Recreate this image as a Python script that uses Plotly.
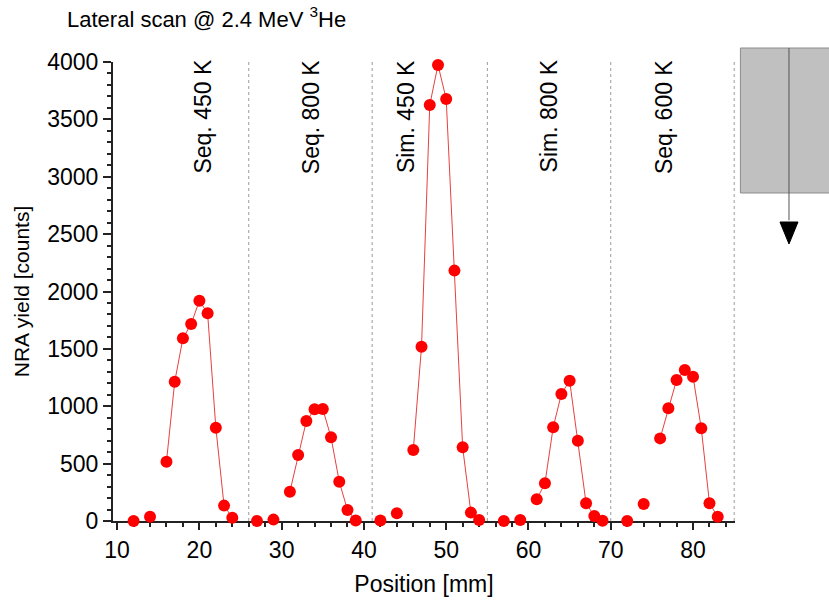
import plotly.graph_objects as go

# ---- data ----
segment_names = ["Seq. 450 K", "Seq. 800 K", "Sim. 450 K", "Sim. 800 K", "Seq. 600 K"]
segment_edges = [26, 41, 55, 70, 85]
label_pos = [20.4, 33.6, 45.2, 62.5, 76.5]

pos_seq450 = [12, 14, 16, 17, 18, 19, 20, 21, 22, 23, 24]
cnt_seq450 = [0, 37, 517, 1214, 1592, 1717, 1920, 1810, 813, 134, 29]

pos_seq800 = [27, 29, 31, 32, 33, 34, 35, 36, 37, 38, 39]
cnt_seq800 = [0, 12, 255, 575, 871, 973, 976, 729, 343, 96, 5]

pos_sim450 = [42, 44, 46, 47, 48, 49, 50, 51, 52, 53, 54]
cnt_sim450 = [5, 67, 619, 1519, 3625, 3974, 3677, 2182, 642, 73, 9]

pos_sim800 = [57, 59, 61, 62, 63, 64, 65, 66, 67, 68, 69]
cnt_sim800 = [0, 9, 189, 328, 816, 1107, 1223, 700, 154, 44, 3]

pos_seq600 = [72, 74, 76, 77, 78, 79, 80, 81, 82, 83]
cnt_seq600 = [0, 148, 720, 982, 1229, 1316, 1258, 808, 154, 37]

# first two points of each scan are off-sample background (not joined)
n_background = 2

segments = [
    (pos_seq450, cnt_seq450),
    (pos_seq800, cnt_seq800),
    (pos_sim450, cnt_sim450),
    (pos_sim800, cnt_sim800),
    (pos_seq600, cnt_seq600),
]

RED = "#ff0000"
FONT = "Liberation Sans, Arial, sans-serif"

fig = go.Figure()

# connecting lines (sample region only)
for xs, ys in segments:
    fig.add_trace(go.Scatter(
        x=xs[n_background:], y=ys[n_background:], mode="lines",
        line=dict(color="#e84040", width=1), showlegend=False,
        hoverinfo="skip", cliponaxis=False))

# all points
all_x, all_y = [], []
for xs, ys in segments:
    all_x += xs
    all_y += ys
fig.add_trace(go.Scatter(
    x=all_x, y=all_y, mode="markers",
    marker=dict(color=RED, size=12, line=dict(width=0)),
    showlegend=False, cliponaxis=False))

# dotted separators
for e in segment_edges:
    fig.add_shape(type="line", xref="x", yref="y", x0=e, x1=e, y0=0, y1=4000,
                  line=dict(color="#9a9a9a", width=1, dash="dot"), layer="below")

# segment labels
for name, xp in zip(segment_names, label_pos):
    fig.add_annotation(x=xp, y=1.009, xref="x", yref="paper", text=name,
                       textangle=-90, showarrow=False, yanchor="top",
                       xanchor="center",
                       font=dict(family=FONT, size=23, color="black"))

# sample sketch (grey box with arrow)
fig.add_shape(type="rect", xref="paper", yref="paper",
              x0=1.0087, x1=1.25, y0=0.7146, y1=1.0305,
              fillcolor="#c0c0c0", line=dict(color="#8c8c8c", width=1), layer="above")
fig.add_shape(type="line", xref="paper", yref="paper",
              x0=1.0868, x1=1.0868, y0=1.0305, y1=0.655,
              line=dict(color="#555555", width=1), layer="above")
fig.add_shape(type="path", xref="paper", yref="paper",
              path="M 1.0723 0.6514 L 1.1013 0.6514 L 1.0868 0.6035 Z",
              fillcolor="black", line=dict(color="black", width=1), layer="above")

fig.update_layout(
    width=829, height=605,
    margin=dict(l=113, r=94, t=62, b=84),
    paper_bgcolor="white", plot_bgcolor="white",
    font=dict(family=FONT, color="black"),
    title=dict(text="Lateral scan @ 2.4 MeV <sup>3</sup>He",
               xref="container", yref="container",
               x=67/829, xanchor="left", y=1-19/605, yanchor="middle",
               font=dict(family=FONT, size=22, color="black")),
    xaxis=dict(
        range=[9.5, 85.1], showgrid=False, zeroline=False,
        showline=True, linecolor="#222222", linewidth=2, layer="below traces",
        tickmode="linear", tick0=10, dtick=10,
        ticks="outside", ticklen=7, tickwidth=1.5, tickcolor="#222222",
        minor=dict(dtick=2, tick0=10, ticks="outside", ticklen=4, tickwidth=1.5, tickcolor="#222222"),
        tickfont=dict(family=FONT, size=23, color="black"),
        title=dict(text="Position [mm]", font=dict(family=FONT, size=23, color="black"), standoff=14),
    ),
    yaxis=dict(
        range=[0, 4000], showgrid=False, zeroline=False,
        showline=True, linecolor="#222222", linewidth=2, layer="below traces",
        tickmode="linear", tick0=0, dtick=500,
        ticks="outside", ticklen=8, tickwidth=1.5, tickcolor="#222222",
        minor=dict(dtick=100, ticks="outside", ticklen=4, tickwidth=1.5, tickcolor="#222222"),
        tickfont=dict(family=FONT, size=23, color="black"),
        title=dict(text="NRA yield [counts]", font=dict(family=FONT, size=21, color="black"), standoff=12),
    ),
)

fig.write_html("out.html")
